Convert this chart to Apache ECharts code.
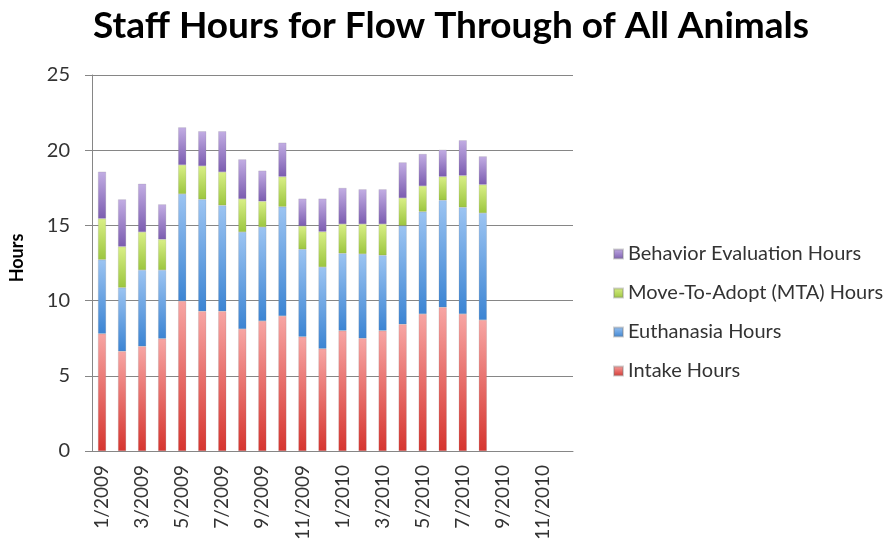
<!DOCTYPE html>
<html>
<head>
<meta charset="utf-8">
<script src="https://cdn.jsdelivr.net/npm/echarts@6/dist/echarts.min.js"></script>
<style>
  html, body { margin: 0; padding: 0; background: #fff; }
  #chart { width: 891px; height: 546px; }
</style>
</head>
<body>
<div id="chart"></div>
<script>
// months shown on the category axis
const months = ['1/2009','2/2009','3/2009','4/2009','5/2009','6/2009','7/2009','8/2009','9/2009','10/2009','11/2009','12/2009',
  '1/2010','2/2010','3/2010','4/2010','5/2010','6/2010','7/2010','8/2010','9/2010','10/2010','11/2010','12/2010']

// hours per month (no data after 8/2010)
const intakeHours = [7.8, 6.63, 6.96, 7.47, 9.97, 9.29, 9.29, 8.11, 8.64, 8.98, 7.6, 6.8,
  8.0, 7.49, 8.0, 8.42, 9.11, 9.55, 9.11, 8.71, null, null, null, null]
const euthanasiaHours = [4.92, 4.23, 5.07, 4.56, 7.12, 7.44, 7.04, 6.45, 6.25, 7.26, 5.81, 5.43,
  5.14, 5.61, 5.01, 6.56, 6.8, 7.12, 7.09, 7.11, null, null, null, null]
const mtaHours = [2.73, 2.73, 2.53, 2.04, 1.93, 2.22, 2.22, 2.2, 1.71, 2.0, 1.55, 2.35,
  1.95, 1.99, 2.08, 1.84, 1.71, 1.57, 2.11, 1.89, null, null, null, null]
const behaviorHours = [3.12, 3.14, 3.21, 2.33, 2.5, 2.31, 2.71, 2.63, 2.04, 2.26, 1.82, 2.2,
  2.4, 2.31, 2.31, 2.37, 2.13, 1.79, 2.35, 1.88, null, null, null, null]

const font = 'Lato, "Open Sans", sans-serif'

function grad(top, bottom) {
  return new echarts.graphic.LinearGradient(0, 0, 0, 1, [
    { offset: 0, color: top },
    { offset: 1, color: bottom }
  ])
}

function barSeries(name, data, top, bottom, legendColor) {
  return {
    name: name,
    type: 'bar',
    stack: 'hours',
    barWidth: 8,
    data: data,
    color: legendColor,
    itemStyle: {
      color: grad(top, bottom),
      borderColor: 'rgba(120,120,120,0.35)',
      borderWidth: 0.5
    }
  }
}

const myChart = echarts.init(document.getElementById('chart'))
myChart.setOption({
  animation: false,
  title: {
    text: 'Staff Hours for Flow Through of All Animals',
    left: 446,
    textAlign: 'center',
    top: 3,
    textStyle: { fontFamily: font, fontSize: 37, fontWeight: 'bold', color: '#000' }
  },
  legend: {
    orient: 'vertical',
    left: 608,
    top: 239,
    itemWidth: 9,
    itemHeight: 9,
    itemGap: 19,
    icon: 'rect',
    data: ['Behavior Evaluation Hours', 'Move-To-Adopt (MTA) Hours', 'Euthanasia Hours', 'Intake Hours'],
    textStyle: { fontFamily: font, fontSize: 20, color: '#333' }
  },
  grid: {
    left: 92,
    right: 318,
    top: 75,
    bottom: 95
  },
  xAxis: {
    type: 'category',
    data: months,
    axisLine: { lineStyle: { color: '#868686' } },
    axisTick: { interval: 1, length: 6, lineStyle: { color: '#868686' } },
    axisLabel: {
      interval: 1,
      rotate: 90,
      margin: 14,
      fontFamily: font,
      fontSize: 19,
      color: '#333'
    }
  },
  yAxis: {
    type: 'value',
    min: 0,
    max: 25,
    interval: 5,
    name: 'Hours',
    nameLocation: 'middle',
    nameRotate: 90,
    nameGap: 66,
    nameTextStyle: { fontFamily: font, fontSize: 18, fontWeight: 'bold', color: '#000', padding: [0, 0, 0, 10] },
    axisLine: { show: true, lineStyle: { color: '#868686' } },
    axisTick: { show: true, length: 7, lineStyle: { color: '#868686' } },
    axisLabel: { fontFamily: font, fontSize: 20, color: '#333', margin: 22 },
    splitLine: { lineStyle: { color: '#868686' } }
  },
  series: [
    barSeries('Intake Hours', intakeHours, '#f7a5a3', '#d6352f', '#d9485a'),
    barSeries('Euthanasia Hours', euthanasiaHours, '#9cc4f2', '#3b84d3', '#4a86d4'),
    barSeries('Move-To-Adopt (MTA) Hours', mtaHours, '#d9ef86', '#9cc63f', '#b5d84c'),
    barSeries('Behavior Evaluation Hours', behaviorHours, '#c2ade3', '#7b5cb0', '#8e70c0')
  ]
})
</script>
</body>
</html>
